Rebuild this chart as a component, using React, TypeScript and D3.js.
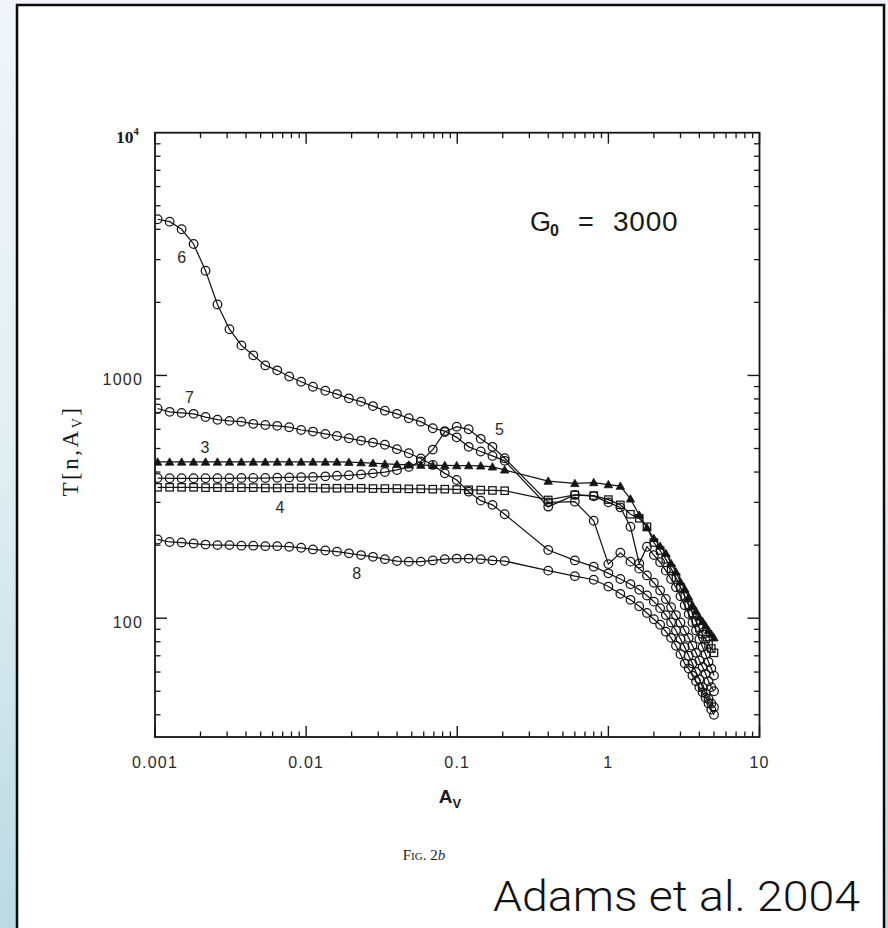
import React from "react";
import * as d3 from "d3";

// Visual extinction grid: log-spaced near the surface, then steps of 0.2 mag deeper in.
const avSurface = [
  0.00104, 0.00125, 0.0015, 0.0018, 0.00216, 0.00259, 0.00311, 0.00373, 0.00447, 0.00537,
  0.00644, 0.00773, 0.00927, 0.0111, 0.0134, 0.016, 0.0192, 0.0231, 0.0277, 0.0332,
  0.0399, 0.0478, 0.0574, 0.0689, 0.0827, 0.0992, 0.119, 0.143, 0.171, 0.206,
];
const avDeep = [
  0.4, 0.6, 0.8, 1.0, 1.2, 1.4, 1.6, 1.8, 2.0, 2.2, 2.4, 2.6, 2.8, 3.0, 3.2, 3.4, 3.6, 3.8,
  4.0, 4.2, 4.4, 4.6, 4.8, 5.0,
];
const AV = [...avSurface, ...avDeep];

// Gas temperature T[n, A_V] (K) for log n = 3 ... 8, G0 = 3000
const temp3 = [
  440, 440, 440, 440, 440, 440, 440, 440, 440, 440, 440, 440, 440, 440, 440, 440, 439, 437, 435, 432,
  430, 428, 427, 426, 426, 425, 425, 424, 420, 408,
  367, 359, 362, 355, 350, 310, 266, 236, 213, 198, 185, 168, 155, 141, 132, 122, 113, 107, 101, 97,
  93, 89, 86, 83,
];
const temp4 = [
  346, 346, 346, 346, 345, 345, 345, 345, 345, 344, 344, 344, 344, 344, 343, 343, 343, 343, 342, 342,
  342, 341, 341, 340, 340, 339, 338, 337, 336, 335,
  307, 322, 320, 308, 293, 268, 258, 238, 205, 190, 175, 160, 147, 134, 123, 113, 105, 97, 91, 86,
  82, 78, 75, 72,
];
const temp5 = [
  378, 377, 377, 377, 377, 377, 377, 378, 378, 378, 379, 380, 381, 382, 384, 386, 388, 391, 395, 400,
  408, 420, 442, 495, 585, 615, 600, 548, 508, 456,
  300, 302, 252, 167, 186, 171, 160, 150, 140, 130, 120, 111, 103, 96, 89, 83, 77, 72, 67, 63,
  59, 55, 52, 50,
];
const temp6 = [
  4400, 4300, 4000, 3480, 2700, 1960, 1550, 1330, 1210, 1100, 1050, 990, 942, 898, 865, 838, 805, 780, 748, 716,
  695, 666, 645, 606, 590, 556, 508, 486, 466, 445,
  288, 322, 318, 300, 286, 238, 168, 197, 182, 170, 157, 145, 134, 123, 113, 104, 96, 89, 82, 76,
  71, 66, 62, 58,
];
const temp7 = [
  731, 708, 701, 695, 674, 657, 650, 645, 632, 625, 620, 612, 596, 587, 574, 563, 551, 539, 529, 518,
  497, 478, 455, 428, 395, 371, 332, 305, 293, 268,
  191, 173, 163, 153, 145, 138, 131, 124, 117, 110, 103, 96, 89, 82, 76, 70, 65, 60, 56, 52,
  49, 46.5, 44.5, 43,
];
const temp8 = [
  211, 206, 205, 203, 201, 200, 200, 199, 199, 198, 198, 197, 195, 192, 190, 188, 185, 182, 179, 175,
  172, 171, 171, 173, 175, 176, 176, 175, 173, 172,
  157, 149, 144, 135, 126, 119, 112, 105, 99, 94, 88, 83, 77, 71, 65, 62, 58, 55, 52, 49.5,
  47, 44.5, 42, 40,
];

const seriesNames = ["3", "4", "5", "6", "7", "8"];
const seriesValues = [temp3, temp4, temp5, temp6, temp7, temp8];
const seriesMarkers = ["triangle", "square", "circle", "circle", "circle", "circle"];

// Curve label baselines beside each curve: [A_V, T]
const labelAnchors: [number, number][] = [
  [0.00214, 480], // 3
  [0.00671, 272], // 4
  [0.19, 566], // 5
  [0.0015, 2913], // 6
  [0.00169, 772], // 7
  [0.0216, 145], // 8
];

const xMajor = [0.001, 0.01, 0.1, 1, 10];
const xTickLabels = ["0.001", "0.01", "0.1", "1", "10"];
const yMajor = [100, 1000];
const yTickLabels = ["100", "1000"];

const W = 888;
const H = 928;
const left = 155;
const right = 759.5;
const top = 132.7;
const bottom = 737;

export default function App() {
  const x = d3.scaleLog().domain([0.001, 10]).range([left, right]);
  const y = d3.scaleLog().domain([32.4, 10000]).range([bottom, top]);

  const xMinor: number[] = [];
  [0.001, 0.01, 0.1, 1].forEach((d) => {
    for (let m = 2; m <= 9; m++) xMinor.push(d * m);
  });
  const yMinor: number[] = [];
  [10, 100, 1000].forEach((d) => {
    for (let m = 2; m <= 9; m++) {
      const v = d * m;
      if (v >= 32.4 && v < 10000) yMinor.push(v);
    }
  });

  const line = d3
    .line<number>()
    .x((_, i) => x(AV[i]))
    .y((v) => y(v));

  const ink = "#151515";
  const sans = "'Liberation Sans', Arial, Helvetica, sans-serif";
  const serif = "'Liberation Serif', 'Times New Roman', serif";

  const marker = (kind: string, cx: number, cy: number, key: string) => {
    if (kind === "circle")
      return <circle key={key} cx={cx} cy={cy} r={4.3} fill="none" stroke={ink} strokeWidth={1.25} />;
    if (kind === "square")
      return (
        <rect key={key} x={cx - 3.7} y={cy - 3.7} width={7.4} height={7.4} fill="none" stroke={ink} strokeWidth={1.25} />
      );
    const s = 4.2;
    return (
      <path
        key={key}
        d={`M${cx},${cy - s}L${cx + s},${cy + s * 0.75}L${cx - s},${cy + s * 0.75}Z`}
        fill={ink}
        stroke={ink}
        strokeWidth={0.8}
      />
    );
  };

  return (
    <svg
      width={W}
      height={H}
      style={{ position: "absolute", left: 0, top: 0, display: "block" }}
      xmlns="http://www.w3.org/2000/svg"
    >
      <defs>
        <linearGradient id="bgGrad" x1="0" y1="0" x2="0" y2="1">
          <stop offset="0" stopColor="#f1f5f9" />
          <stop offset="0.5" stopColor="#e1eef2" />
          <stop offset="1" stopColor="#bcdae3" />
        </linearGradient>
        <clipPath id="plotClip">
          <rect x={left} y={top} width={right - left} height={bottom - top} />
        </clipPath>
      </defs>

      <rect x={0} y={0} width={W} height={H} fill="url(#bgGrad)" />
      <rect x={17} y={5} width={867} height={940} fill="#ffffff" stroke="#0a0a0a" strokeWidth={2.5} />

      {/* data curves */}
      <g clipPath="url(#plotClip)">
        {seriesValues.map((vals, si) => (
          <path key={"l" + si} d={line(vals) || ""} fill="none" stroke={ink} strokeWidth={1.25} />
        ))}
        {seriesValues.map((vals, si) =>
          vals.map((v, i) => marker(seriesMarkers[si], x(AV[i]), y(v), `m${si}-${i}`))
        )}
      </g>

      {/* axes frame */}
      <rect x={left} y={top} width={right - left} height={bottom - top} fill="none" stroke={ink} strokeWidth={1.8} />

      {/* x ticks, bottom and top, pointing inward */}
      {xMajor.map((d) => (
        <g key={"xM" + d}>
          <line x1={x(d)} x2={x(d)} y1={bottom} y2={bottom - 11} stroke={ink} strokeWidth={1.4} />
          <line x1={x(d)} x2={x(d)} y1={top} y2={top + 11} stroke={ink} strokeWidth={1.4} />
        </g>
      ))}
      {xMinor.map((d) => (
        <g key={"xm" + d}>
          <line x1={x(d)} x2={x(d)} y1={bottom} y2={bottom - 5.5} stroke={ink} strokeWidth={1.3} />
          <line x1={x(d)} x2={x(d)} y1={top} y2={top + 5.5} stroke={ink} strokeWidth={1.3} />
        </g>
      ))}

      {/* y ticks, left and right */}
      {yMajor.map((d) => (
        <g key={"yM" + d}>
          <line x1={left} x2={left + 12} y1={y(d)} y2={y(d)} stroke={ink} strokeWidth={1.4} />
          <line x1={right} x2={right - 12} y1={y(d)} y2={y(d)} stroke={ink} strokeWidth={1.4} />
        </g>
      ))}
      {yMinor.map((d) => (
        <g key={"ym" + d}>
          <line x1={left} x2={left + 5.5} y1={y(d)} y2={y(d)} stroke={ink} strokeWidth={1.3} />
          <line x1={right} x2={right - 5.5} y1={y(d)} y2={y(d)} stroke={ink} strokeWidth={1.3} />
        </g>
      ))}

      {/* tick labels */}
      {xMajor.map((d, i) => (
        <text
          key={"xl" + d}
          x={x(d)}
          y={768}
          textAnchor="middle"
          fontFamily={sans}
          fontSize={16}
          letterSpacing={1.2}
          fill="#2a2a2a"
        >
          {xTickLabels[i]}
        </text>
      ))}
      {yMajor.map((d, i) => (
        <text
          key={"yl" + d}
          x={143}
          y={y(d) + 10}
          textAnchor="end"
          fontFamily={sans}
          fontSize={16}
          letterSpacing={1.2}
          fill="#2a2a2a"
        >
          {yTickLabels[i]}
        </text>
      ))}
      <text x={116} y={y(10000) + 10.5} fontFamily={serif} fontSize={17.5} fontWeight="bold" fill="#1a1a1a">
        10
        <tspan fontSize={10.5} dy={-8}>
          4
        </tspan>
      </text>

      {/* curve labels */}
      {seriesNames.map((n, i) => (
        <text
          key={"cl" + n}
          x={x(labelAnchors[i][0])}
          y={y(labelAnchors[i][1])}
          textAnchor="middle"
          fontFamily={sans}
          fontSize={16}
          fill="#2a2a2a"
        >
          {n}
        </text>
      ))}

      {/* G0 annotation */}
      <g fontFamily={sans} fill="#1a1a1a">
        <text x={530} y={231} fontSize={27}>
          G
        </text>
        <text x={550} y={236} fontSize={16} fontWeight="bold">
          0
        </text>
        <text x={578} y={231} fontSize={27}>
          =
        </text>
        <text x={613} y={231} fontSize={28} letterSpacing={0.8}>
          3000
        </text>
      </g>

      {/* axis titles */}
      <text x={450} y={803} textAnchor="middle" fontFamily={sans} fontSize={19} fontWeight="bold" fill="#1a1a1a">
        A
        <tspan fontSize={13} dy={5}>
          V
        </tspan>
      </text>
      <text
        transform="translate(78,451) rotate(-90)"
        textAnchor="middle"
        fontFamily={serif}
        fontSize={23}
        letterSpacing={2.5}
        fill="#1a1a1a"
      >
        T[n,A
        <tspan fontSize={14} dy={4}>
          V
        </tspan>
        <tspan dy={-4}>]</tspan>
      </text>

      {/* figure caption and reference */}
      <text x={424} y={860} textAnchor="middle" fontFamily={serif} fontSize={15} fill="#1a1a1a">
        F
        <tspan fontSize={11}>IG</tspan>
        {". 2"}
        <tspan fontStyle="italic" fill="#1a2a5a">
          b
        </tspan>
      </text>
      <text
        x={493}
        y={911}
        fontFamily="Roboto, 'Open Sans', sans-serif"
        fontWeight={300}
        fontSize={42}
        textLength={367}
        lengthAdjust="spacingAndGlyphs"
        fill="#111"
      >
        Adams et al. 2004
      </text>
    </svg>
  );
}
